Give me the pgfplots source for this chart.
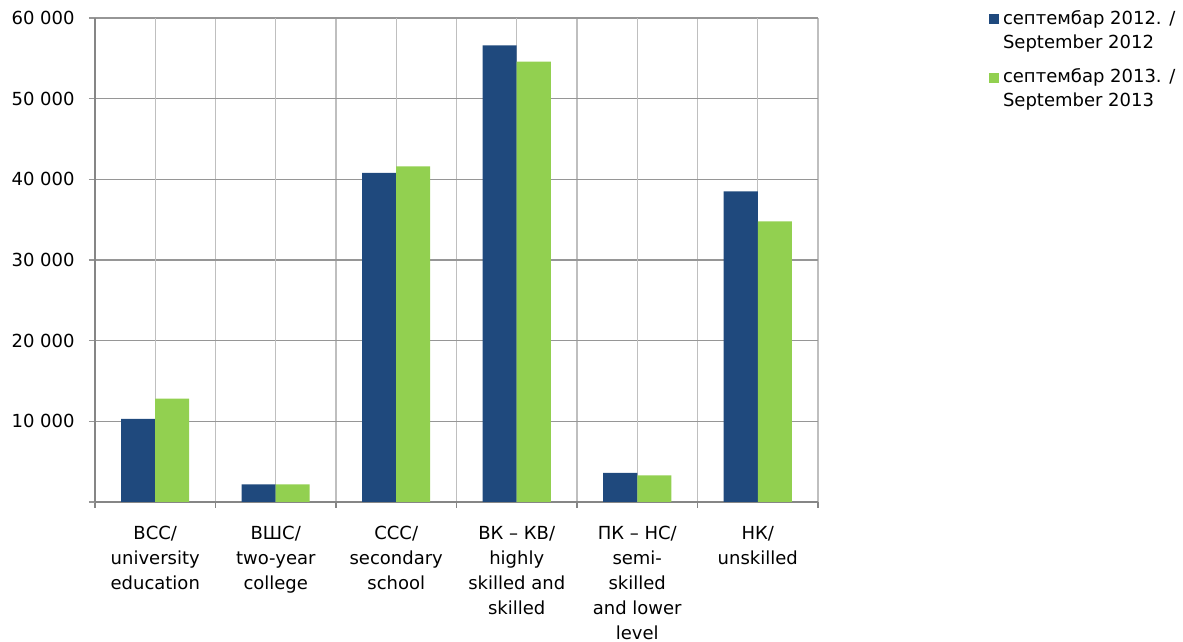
\documentclass[border=0pt]{standalone}
\usepackage{fontspec}
\setmainfont{DejaVu Sans}
\usepackage{pgfplots}
\pgfplotsset{compat=1.18}
\definecolor{sblue}{RGB}{31,73,125}
\definecolor{sgreen}{RGB}{146,208,80}
\definecolor{gridv}{RGB}{191,191,191}
\definecolor{gridh}{RGB}{150,150,150}
\definecolor{axisc}{RGB}{134,134,134}
\begin{document}
\fontsize{9pt}{12.5pt}\selectfont
\begin{tikzpicture}
\path[use as bounding box] (-47.5pt,-70pt) rectangle (544pt,251pt);
\begin{axis}[
  at={(0pt,0pt)}, anchor=south west,
  scale only axis, width=361.5pt, height=242pt,
  ybar=0pt, bar width=17pt,
  xmin=-0.5, xmax=5.5, ymin=0, ymax=60000,
  scaled y ticks=false,
  axis x line*=bottom, axis y line*=left,
  axis line style={draw=axisc, line width=0.8pt},
  tick align=outside, major tick length=3pt,
  xtick={-0.5,0.5,...,5.5}, xticklabels={},
  xmajorgrids, x grid style={gridv, line width=0.6pt},
  x tick style={draw=axisc, line width=0.6pt},
  extra x ticks={0,1,2,3,4,5},
  extra x tick labels={{ВСС/\\university\\education},{ВШС/\\two-year\\college},{ССС/\\secondary\\school},{ВК – КВ/\\highly\\skilled and\\skilled},{ПК – НС/\\semi-\\skilled\\and lower\\level},{НК/\\unskilled}},
  extra x tick style={major tick length=0pt, grid=major,
     tick label style={align=center, font=\fontsize{9pt}{12.5pt}\selectfont, yshift=-9pt}},
  ytick={0,10000,20000,30000,40000,50000,60000},
  yticklabels={{},{10 000},{20 000},{30 000},{40 000},{50 000},{60 000}},
  ymajorgrids, y grid style={gridh, line width=0.6pt},
  y tick style={draw=gridh, line width=0.6pt},
  yticklabel style={font=\fontsize{9pt}{12.5pt}\selectfont, xshift=-4pt},
  legend style={at={(1.236,1.025)}, anchor=north west, draw=none, fill=none,
     inner sep=0pt, font=\fontsize{9pt}{12pt}\selectfont, cells={align=left}, row sep=5pt},
  legend cell align=left,
  legend image code/.code={\fill[#1] (-1.5pt,3.2pt) rectangle (3.5pt,8.2pt);},
]
\addplot[fill=sblue, draw=none] coordinates {(0,10300) (1,2200) (2,40800) (3,56600) (4,3600) (5,38500)};
\addplot[fill=sgreen, draw=none] coordinates {(0,12800) (1,2200) (2,41600) (3,54600) (4,3300) (5,34800)};
\legend{{септембар 2012. /\\September 2012},{септембар 2013. /\\September 2013}}
\end{axis}
\end{tikzpicture}
\end{document}
